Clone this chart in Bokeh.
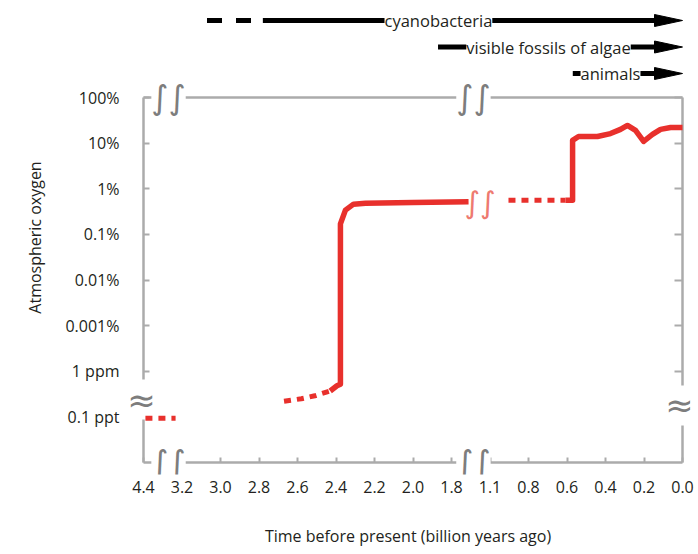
import numpy as np
from bokeh.plotting import figure
from bokeh.models import (Range1d, FixedTicker, LogAxis, LinearAxis, Label,
                          CustomJSTickFormatter, LinearScale)
from bokeh.core.properties import value
from bokeh.embed import file_html
from bokeh.resources import INLINE

# ---------------- data ----------------
x_tick_labels = ["4.4", "3.2", "3.0", "2.8", "2.6", "2.4", "2.2", "2.0", "1.8",
                 "1.1", "0.8", "0.6", "0.4", "0.2", "0.0"]
x_tick_times = [float(s) for s in x_tick_labels]

y_tick_values = [1e-7, 1e-6, 1e-5, 1e-4, 1e-3, 1e-2, 1e-1, 1.0]
y_tick_labels = ["0.1 ppt", "1 ppm", "0.001%", "0.01%", "0.1%", "1%", "10%", "100%"]

# oxygen curve pieces: time (billion years ago) and O2 fraction of atmosphere
early_t = [4.34, 3.40]
early_o2 = [9.3e-8, 9.3e-8]

pre_goe_t = [2.67, 2.58, 2.51, 2.43]
pre_goe_o2 = [2.2e-7, 2.5e-7, 2.9e-7, 3.7e-7]

goe_t = [2.43, 2.395, 2.377, 2.377, 2.351, 2.309, 2.247, 2.0, 1.49]
goe_o2 = [3.7e-7, 4.8e-7, 5.2e-7, 1.7e-3, 3.4e-3, 4.6e-3, 4.8e-3, 5.0e-3, 5.2e-3]

mid_t = [0.956, 0.608]
mid_o2 = [5.6e-3, 5.6e-3]

noe_t = [0.608, 0.571, 0.571, 0.54, 0.442, 0.374, 0.322, 0.286, 0.244, 0.202,
         0.156, 0.114, 0.062, 0.0]
noe_o2 = [5.6e-3, 5.6e-3, 0.115, 0.140, 0.140, 0.162, 0.20, 0.244, 0.19, 0.109,
          0.155, 0.20, 0.22, 0.22]

events = ["cyanobacteria", "visible fossils of algae", "animals"]
event_start = [3.07, 1.87, 0.57]
event_solid_from = [2.78, 1.87, 0.57]

# ---------------- styles / layout constants ----------------
FONT = "Open Sans"
TXT = "#231f20"
GRAY = "#ababab"
SQ = "#7d7d7d"
RED = "#e8302c"
FS = "16px"

W, H = 694, 552
FL, FR, FT, FB = 125, 690, 0, 474          # frame edges (px)
BOX_L, BOX_R, BOX_T, BOX_B = 143, 682, 97, 462   # axis box (px)


def tpos(t):
    """broken time axis: map time (Gyr ago) onto evenly spaced tick slots"""
    t = np.asarray(t, dtype=float)
    return np.interp(-t, -np.array(x_tick_times), np.arange(len(x_tick_times)))


n_slots = len(x_tick_times) - 1
x_lo, x_hi = 0.0, float(n_slots)
dec_lo, dec_hi = -8.0, 0.0
ppu_x = (BOX_R - BOX_L) / (x_hi - x_lo)
ppd_y = (BOX_B - BOX_T) / (dec_hi - dec_lo)

x_range = Range1d(x_lo - (BOX_L - FL) / ppu_x, x_hi + (FR - BOX_R) / ppu_x)
y_range = Range1d(10 ** (dec_lo - (FB - BOX_B) / ppd_y), 10 ** (dec_hi + (BOX_T - FT) / ppd_y))

p = figure(width=W, height=H, x_range=x_range, y_range=y_range, y_axis_type="log",
           output_backend="svg", toolbar_location=None,
           min_border_left=FL, min_border_right=W - FR,
           min_border_top=FT, min_border_bottom=H - FB)
p.grid.visible = False
p.outline_line_color = None

# event rows share the frame through an extra linear range
row_px = [20, 46.5, 73]
row_step = row_px[1] - row_px[0]
ev_top = -(row_px[0] - FT) / row_step
p.extra_y_ranges = {"ev": Range1d(ev_top + (FB - FT) / row_step, ev_top)}
p.extra_y_scales = {"ev": LinearScale()}

fmt_y = CustomJSTickFormatter(args=dict(vals=y_tick_values, labs=y_tick_labels), code="""
    for (let i = 0; i < vals.length; i++) {
        if (Math.abs(Math.log10(vals[i]) - Math.log10(tick)) < 1e-6) return labs[i];
    }
    return "";
""")
fmt_blank = CustomJSTickFormatter(code="return '';")


def text_axis(ax):
    ax.axis_line_color = None
    ax.major_tick_line_color = None
    ax.minor_tick_line_color = None
    ax.major_tick_in = 0
    ax.major_tick_out = 0
    ax.major_label_text_font = FONT
    ax.major_label_text_font_size = FS
    ax.major_label_text_color = TXT
    ax.axis_label_text_font = FONT
    ax.axis_label_text_font_size = FS
    ax.axis_label_text_font_style = "normal"
    ax.axis_label_text_color = TXT


def box_axis(ax, tick_in):
    ax.axis_line_color = GRAY
    ax.axis_line_width = 2.5
    ax.major_tick_line_color = GRAY if tick_in else None
    ax.major_tick_line_width = 2
    ax.major_tick_in = tick_in
    ax.major_tick_out = 0
    ax.minor_tick_line_color = None
    ax.major_label_standoff = 0
    ax.major_label_text_font_size = "0px"
    ax.formatter = fmt_blank


# labelled axes at the frame edges
xa = p.xaxis[0]
xa.ticker = FixedTicker(ticks=list(range(len(x_tick_labels))), minor_ticks=[])
xa.major_label_overrides = {i: lab for i, lab in enumerate(x_tick_labels)}
text_axis(xa)
xa.major_label_standoff = 6
xa.axis_label = "Time before present (billion years ago)"
xa.axis_label_standoff = 29

ya = p.yaxis[0]
ya.ticker = FixedTicker(ticks=y_tick_values, minor_ticks=[])
ya.formatter = fmt_y
text_axis(ya)
ya.major_label_standoff = 6
ya.axis_label = "Atmospheric oxygen"
ya.axis_label_standoff = 16

# the gray axis box, drawn by axes fixed at the box edges
yt = FixedTicker(ticks=y_tick_values, minor_ticks=[])
xt = FixedTicker(ticks=list(range(len(x_tick_labels))), minor_ticks=[])
left_box = LogAxis(ticker=yt, fixed_location=x_lo, bounds=(10 ** dec_lo, 10 ** dec_hi))
box_axis(left_box, 6)
p.add_layout(left_box, "left")
right_box = LogAxis(ticker=yt, fixed_location=x_hi, bounds=(10 ** dec_lo, 10 ** dec_hi))
box_axis(right_box, 8)
p.add_layout(right_box, "right")
bottom_box = LinearAxis(ticker=xt, fixed_location=10 ** dec_lo, bounds=(x_lo, x_hi))
box_axis(bottom_box, 5)
p.add_layout(bottom_box, "below")
top_box = LinearAxis(ticker=FixedTicker(ticks=[], minor_ticks=[]),
                     fixed_location=10 ** dec_hi, bounds=(x_lo, x_hi))
box_axis(top_box, 0)
p.add_layout(top_box, "above")

# oxygen curve (drawn above the break-mark backgrounds)
for xs_t, ys_o2, dashed in [(early_t, early_o2, True), (pre_goe_t, pre_goe_o2, True),
                            (goe_t, goe_o2, False), (mid_t, mid_o2, True),
                            (noe_t, noe_o2, False)]:
    r = p.line(tpos(xs_t), ys_o2, line_color=RED,
               line_width=5 if dashed else 5.5,
               line_dash="7 6" if dashed else "solid", line_join="round")
    r.level = "overlay"


# axis-break marks
def brk(x, y, text, size, color=SQ, bg="white", angle=0):
    p.add_layout(Label(x=x, y=y, text=text, angle=angle, angle_units="deg",
                       text_align="center", text_baseline="middle",
                       text_font="DejaVu Sans", text_font_size=size,
                       text_color=color, background_fill_color=bg))


brk(0.65, 10 ** dec_hi, "\u222b\u222b", "33px")
brk(0.65, 10 ** dec_lo, "\u222b\u222b", "33px")
brk(8.57, 10 ** dec_hi, "\u222b\u222b", "33px")
brk(8.57, 10 ** dec_lo, "\u222b\u222b", "33px")
brk(x_lo - 0.05, 10 ** -6.62, "\u2248", "34px")
brk(x_hi - 0.08, 10 ** -6.75, "\u2248", "34px")
brk(float(tpos([goe_t[-1]])[0]) + 0.3, goe_o2[-1] * 0.95, "\u222b\u222b", "30px",
    color="#ee7a70", bg=None)

# ---------------- event arrows on top ----------------
head_len = 28 / ppu_x
head_half = 6 / row_step
rows = list(range(len(events)))
tip = x_hi

p.segment(x0=tpos([event_start[0]]), y0=[rows[0]], x1=tpos([2.84]), y1=[rows[0]],
          line_color="black", line_width=5, line_dash="15 14", y_range_name="ev")
p.segment(x0=tpos(event_solid_from), y0=rows,
          x1=[tip - head_len * 0.9] * len(rows), y1=rows,
          line_color="black", line_width=5, y_range_name="ev")
p.patches(xs=[[tip - head_len, tip, tip - head_len] for _ in rows],
          ys=[[r - head_half, r, r + head_half] for r in rows],
          fill_color="black", line_color="black", line_width=1, y_range_name="ev")

label_x = [7.66, 10.52, 12.13]
p.text(x=label_x, y=rows, text=events, text_align="center", text_baseline="middle",
       text_font=value(FONT), text_font_size="16.5px", text_color=TXT,
       background_fill_color="white", y_range_name="ev")

open("out.html", "w").write(file_html(p, INLINE))
